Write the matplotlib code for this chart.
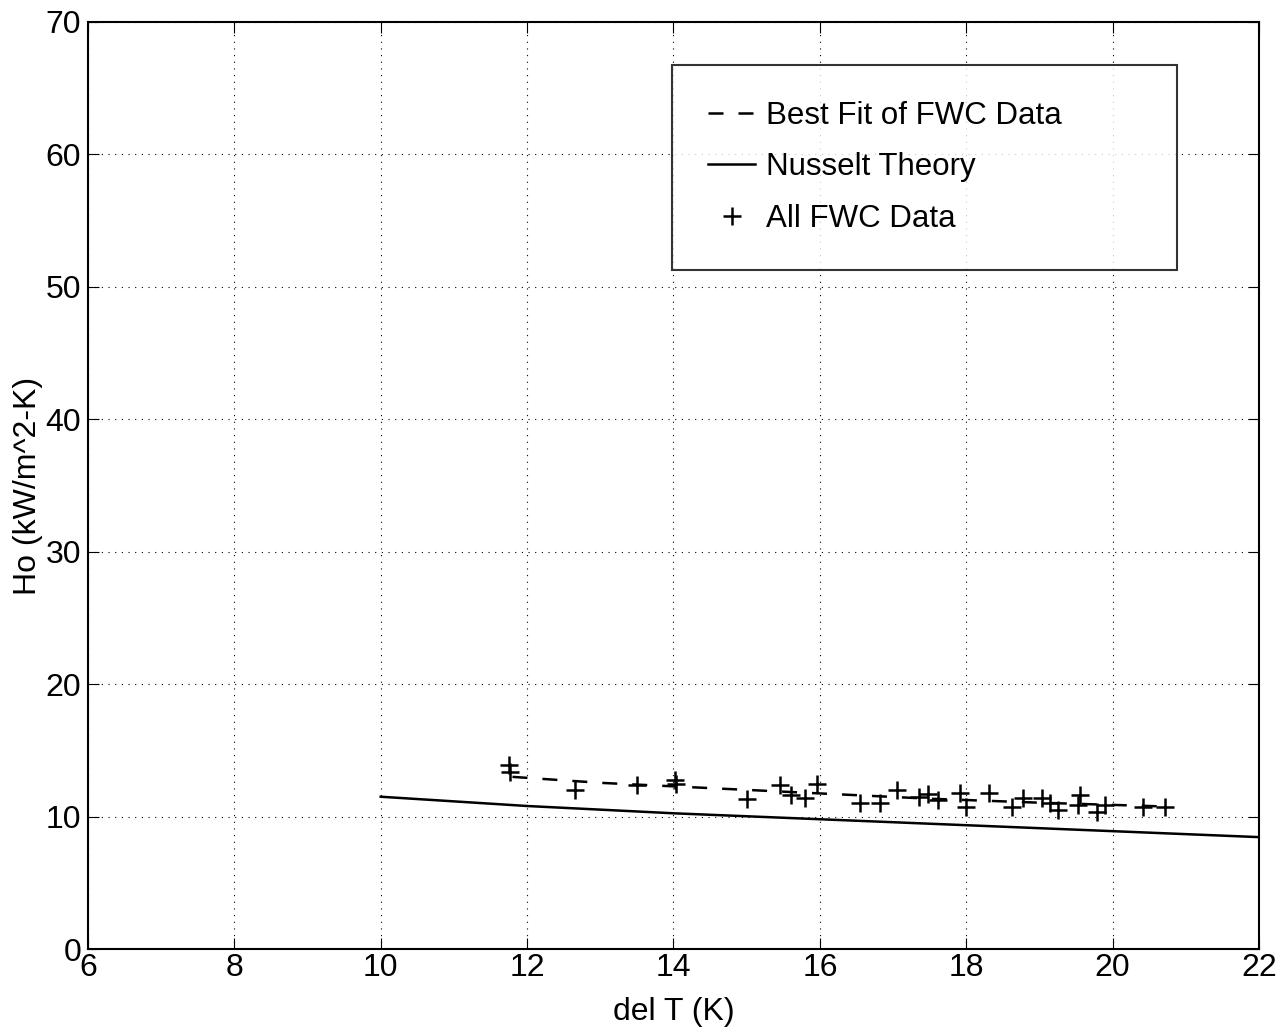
import matplotlib
matplotlib.use("Agg")
import matplotlib.pyplot as plt

# FWC data (del T in K, Ho in kW/m^2-K)
data_dt = [11.75, 11.77, 12.65, 13.5, 14.02, 14.04, 15.0, 15.46, 15.6, 15.8, 15.96,
           16.55, 16.82, 17.05, 17.35, 17.48, 17.61, 17.91, 18.0, 18.31, 18.62,
           18.77, 19.03, 19.14, 19.25, 19.55, 19.53, 19.79, 19.9, 20.41, 20.71]
data_ho = [13.9, 13.4, 12.0, 12.4, 12.75, 12.45, 11.3, 12.4, 11.6, 11.4, 12.45,
           11.0, 11.0, 12.0, 11.5, 11.7, 11.25, 11.8, 10.7, 11.8, 10.7,
           11.4, 11.4, 11.0, 10.5, 11.6, 10.9, 10.35, 10.9, 10.7, 10.7]

fit_dt = [11.8, 13.0, 14.5, 16.0, 17.5, 19.0, 20.8]
fit_ho = [13.0, 12.55, 12.15, 11.75, 11.35, 11.05, 10.75]

nusselt_dt = [10, 12, 14, 16, 18, 20, 22]
nusselt_ho = [11.5, 10.8, 10.25, 9.8, 9.35, 8.9, 8.45]

plt.rcParams['font.family'] = ['Liberation Sans', 'DejaVu Sans']

fig = plt.figure(figsize=(12.88, 10.31), dpi=100)
ax = fig.add_axes([0.0683, 0.0795, 0.9092, 0.8992])

ax.plot(fit_dt, fit_ho, color='k', linestyle=(0, (6, 6)), linewidth=1.8, label='Best Fit of FWC Data')
ax.plot(nusselt_dt, nusselt_ho, color='k', linestyle='-', linewidth=1.8, label='Nusselt Theory')
ax.plot(data_dt, data_ho, linestyle='none', marker='+', color='k', markersize=13,
        markeredgewidth=1.8, label='All FWC Data')

ax.set_xlim(6, 22)
ax.set_ylim(0, 70)
ax.set_xticks(range(6, 23, 2))
ax.set_yticks(range(0, 71, 10))
ax.grid(True, color='k', linestyle=(0, (1, 5)), linewidth=0.8)
ax.tick_params(direction='in', labelsize=23, length=8, top=True, right=True, pad=5)
ax.tick_params(axis='x', pad=3)
for s in ax.spines.values():
    s.set_linewidth(1.5)

ax.set_xlabel("del T (K)", fontsize=23, labelpad=10)
ax.set_ylabel("Ho (kW/m^2-K)", fontsize=23, labelpad=2)

leg = ax.legend(loc='upper left', bbox_to_anchor=(0.499, 0.735, 0.431, 0.219), mode='expand',
                fontsize=22.5, frameon=True, fancybox=False, edgecolor='k', handlelength=1.5,
                borderpad=1.15, labelspacing=0.7, handletextpad=0.35, borderaxespad=0)
leg.get_frame().set_linewidth(1.5)

fig.savefig("out.png", dpi=100)
